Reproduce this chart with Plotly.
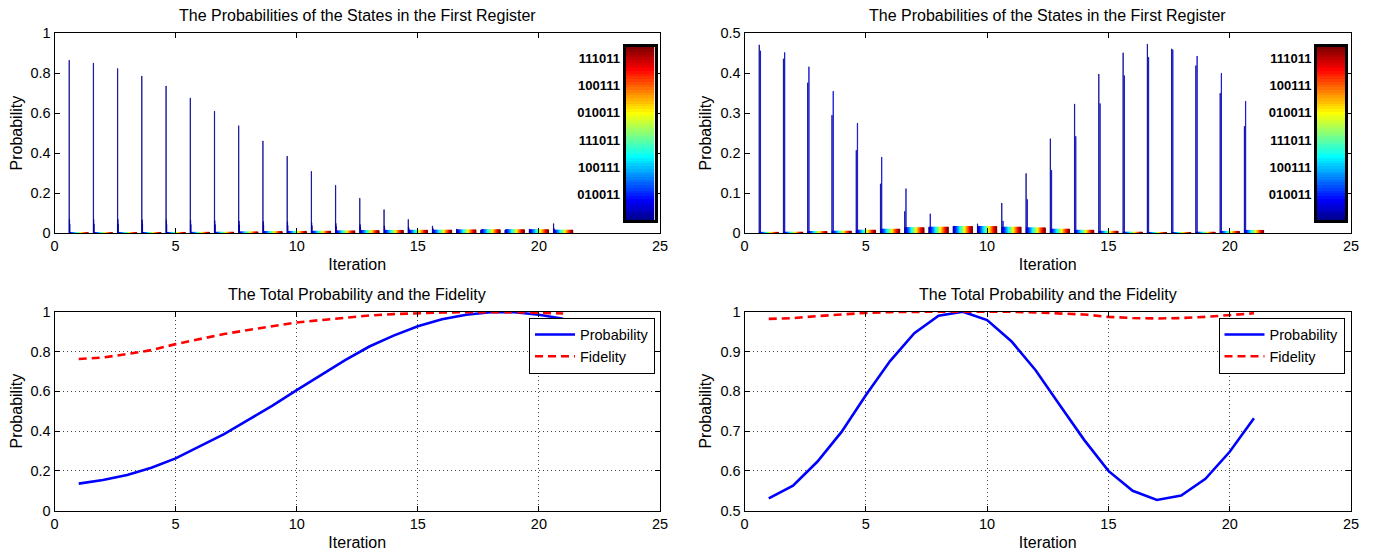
import plotly.graph_objects as go

# page is 1377x556; the html body adds an 8px margin, so the figure is drawn 8px smaller
PAGE_W, PAGE_H = 1377, 556
OFF = 8
W, H = PAGE_W - OFF, PAGE_H - OFF

# ---------------- data ----------------
iterations = list(range(1, 22))
n_states = 64

# top-left panel: probabilities of the register states per iteration
tl_state1 = [0.865, 0.851, 0.824, 0.786, 0.736, 0.676, 0.610, 0.537, 0.461, 0.385, 0.309,
             0.239, 0.174, 0.117, 0.068, 0.035, 0.020, 0.015, 0.015, 0.019, 0.047]
tl_state2 = [0.068, 0.068, 0.068, 0.066, 0.066, 0.064, 0.062, 0.060, 0.058, 0.056, 0.052,
             0.048, 0.042, 0.036, 0.030, 0.024, 0.018, 0.016, 0.016, 0.018, 0.024]
tl_state3 = [0.044, 0.044, 0.044, 0.044, 0.044, 0.043, 0.042, 0.041, 0.040, 0.038, 0.036,
             0.033, 0.030, 0.026, 0.022, 0.018, 0.015, 0.014, 0.014, 0.015, 0.018]
tl_others = [0.0010, 0.0012, 0.0015, 0.0020, 0.0028, 0.0035, 0.0045, 0.0055, 0.0068, 0.0080,
             0.0090, 0.0105, 0.0118, 0.0130, 0.0140, 0.0150, 0.0155, 0.0160, 0.0160, 0.0160, 0.0150]

# top-right panel
tr_state1 = [0.471, 0.436, 0.376, 0.295, 0.207, 0.123, 0.054, 0.015, 0.017, 0.023, 0.075,
             0.149, 0.236, 0.323, 0.398, 0.451, 0.473, 0.461, 0.419, 0.350, 0.267]
tr_state5 = [0.456, 0.452, 0.416, 0.355, 0.275, 0.190, 0.111, 0.048, 0.017, 0.017, 0.030,
             0.084, 0.157, 0.242, 0.324, 0.394, 0.440, 0.459, 0.443, 0.400, 0.330]
tr_others = [0.0017, 0.0025, 0.0034, 0.0050, 0.0075, 0.0100, 0.0130, 0.0150, 0.0160, 0.0160,
             0.0150, 0.0128, 0.0100, 0.0070, 0.0045, 0.0025, 0.0014, 0.0013, 0.0022, 0.0040, 0.0065]

# bottom panels: total probability and fidelity
bl_probability = [0.136, 0.154, 0.179, 0.216, 0.263, 0.322, 0.385, 0.456, 0.528, 0.606, 0.683,
                  0.757, 0.825, 0.880, 0.927, 0.962, 0.985, 0.997, 0.997, 0.985, 0.965]
bl_fidelity = [0.762, 0.770, 0.787, 0.807, 0.837, 0.864, 0.888, 0.908, 0.928, 0.946, 0.958,
               0.971, 0.981, 0.988, 0.993, 0.996, 0.998, 0.999, 0.998, 0.995, 0.991]
br_probability = [0.531, 0.563, 0.623, 0.698, 0.790, 0.876, 0.946, 0.990, 1.000, 0.979, 0.926,
                  0.853, 0.765, 0.678, 0.600, 0.550, 0.527, 0.538, 0.580, 0.648, 0.732]
br_fidelity = [0.982, 0.984, 0.989, 0.993, 0.997, 0.999, 1.000, 1.000, 1.000, 1.000, 1.000,
               0.998, 0.996, 0.993, 0.987, 0.984, 0.983, 0.984, 0.987, 0.992, 0.996]

cbar_tickvals = [10, 20, 30, 40, 50, 60]
cbar_ticktext = ["010011", "100111", "111011", "010011", "100111", "111011"]

title_top = "The Probabilities of the States in the First Register"
title_bottom = "The Total Probability and the Fidelity"

# ---------------- styling helpers ----------------
FONT = "Liberation Sans, Arial, Helvetica, sans-serif"


def jet(n):
    cols = []
    for i in range(1, n + 1):
        x = i / n
        r = min(max(1.5 - abs(4 * x - 3), 0), 1)
        g = min(max(1.5 - abs(4 * x - 2), 0), 1)
        b = min(max(1.5 - abs(4 * x - 1), 0), 1)
        cols.append("rgb(%d,%d,%d)" % (round(r * 255), round(g * 255), round(b * 255)))
    return cols


JET = jet(n_states)


def px_x(p):
    return (p - OFF) / W


def px_y(p):
    return 1 - (p - OFF) / H


# panel domains (pixels of the 1377x556 page)
dom_x_left = [px_x(54.5), px_x(660)]
dom_x_right = [px_x(744.5), px_x(1351)]
dom_y_top = [px_y(233), px_y(33.3)]
dom_y_bot = [px_y(510.7), px_y(311.7)]

fig = go.Figure()

# ---------------- top panels: grouped bars ----------------
def state_table(specials, others):
    table = []
    for j in range(1, n_states + 1):
        table.append(specials.get(j, others))
    return table


tl_table = state_table({1: tl_state1, 2: tl_state2, 3: tl_state3}, tl_others)
tr_table = state_table({1: tr_state1, 5: tr_state5}, tr_others)

for j in range(n_states):
    fig.add_trace(go.Bar(x=iterations, y=tl_table[j],
                         marker=dict(color=JET[j], line=dict(width=0.7, color=JET[j])),
                         xaxis="x", yaxis="y", showlegend=False, hoverinfo="skip"))
for j in range(n_states):
    fig.add_trace(go.Bar(x=iterations, y=tr_table[j],
                         marker=dict(color=JET[j], line=dict(width=0.7, color=JET[j])),
                         xaxis="x2", yaxis="y2", showlegend=False, hoverinfo="skip"))

# colour bars drawn as small heatmaps in their own axes
cscale = [[k / (n_states - 1), JET[k]] for k in range(n_states)]
zcol = [[v] for v in range(1, n_states + 1)]
for xa, ya in (("x5", "y5"), ("x6", "y6")):
    fig.add_trace(go.Heatmap(z=zcol, x=[0], y=list(range(1, n_states + 1)), colorscale=cscale,
                             zmin=1, zmax=n_states, showscale=False, xaxis=xa, yaxis=ya,
                             hoverinfo="skip"))

# ---------------- bottom panels: lines ----------------
line_blue = dict(color="#0000ff", width=2.6)
line_red = dict(color="#ff0000", width=2.6, dash="8px,5px")
fig.add_trace(go.Scatter(x=iterations, y=bl_probability, mode="lines", line=line_blue,
                         name="Probability", xaxis="x3", yaxis="y3", legend="legend"))
fig.add_trace(go.Scatter(x=iterations, y=bl_fidelity, mode="lines", line=line_red,
                         name="Fidelity", xaxis="x3", yaxis="y3", legend="legend"))
fig.add_trace(go.Scatter(x=iterations, y=br_probability, mode="lines", line=line_blue,
                         name="Probability", xaxis="x4", yaxis="y4", legend="legend2"))
fig.add_trace(go.Scatter(x=iterations, y=br_fidelity, mode="lines", line=line_red,
                         name="Fidelity", xaxis="x4", yaxis="y4", legend="legend2"))

# ---------------- axes ----------------
tickfont = dict(family=FONT, size=14.5, color="black")
titlefont = dict(family=FONT, size=16, color="black")


def xax(domain, anchor, grid):
    return dict(domain=domain, anchor=anchor, range=[0, 25], tickvals=[0, 5, 10, 15, 20, 25],
                showline=True, linecolor="black", linewidth=1, mirror="ticks",
                ticks="inside", ticklen=5, tickcolor="black", tickfont=tickfont,
                showgrid=grid, gridcolor="#444", griddash="1px,3px", gridwidth=1,
                zeroline=False, automargin=False,
                title=dict(text="Iteration", font=titlefont, standoff=5))


def yax(domain, anchor, rng, dtick, grid):
    return dict(domain=domain, anchor=anchor, range=rng, dtick=dtick, tick0=0,
                showline=True, linecolor="black", linewidth=1, mirror="ticks",
                ticks="inside", ticklen=5, tickcolor="black", tickfont=tickfont,
                showgrid=grid, gridcolor="#444", griddash="1px,3px", gridwidth=1,
                zeroline=False, automargin=False,
                title=dict(text="Probability", font=titlefont, standoff=4))


def cbx(domain, anchor):
    return dict(domain=domain, anchor=anchor, range=[-0.5, 0.5], showticklabels=False,
                ticks="", showgrid=False, zeroline=False, showline=True, linecolor="black",
                linewidth=3, mirror=True, automargin=False)


def cby(domain, anchor):
    return dict(domain=domain, anchor=anchor, range=[0.5, n_states + 0.5], tickvals=cbar_tickvals,
                ticktext=cbar_ticktext, ticks="", side="left",
                tickfont=dict(family=FONT, size=13, color="black", weight="bold"),
                showgrid=False, zeroline=False, showline=True, linecolor="black",
                linewidth=3, mirror=True, automargin=False)


cb_y = [px_y(220), px_y(46.5)]

legend_style = dict(xanchor="right", yanchor="top", bgcolor="white", bordercolor="black",
                    borderwidth=1, itemwidth=40, tracegroupgap=0,
                    font=dict(family=FONT, size=14.5, color="black"))

fig.update_layout(
    width=W, height=H,
    margin=dict(l=0, r=0, t=0, b=0, autoexpand=False),
    paper_bgcolor="white", plot_bgcolor="white",
    barmode="group", bargap=0.2, bargroupgap=0,
    font=dict(family=FONT, size=14.5, color="black"),
    xaxis=xax(dom_x_left, "y", False),
    yaxis=yax(dom_y_top, "x", [0, 1], 0.2, False),
    xaxis2=xax(dom_x_right, "y2", False),
    yaxis2=yax(dom_y_top, "x2", [0, 0.5], 0.1, False),
    xaxis3=xax(dom_x_left, "y3", True),
    yaxis3=yax(dom_y_bot, "x3", [0, 1], 0.2, True),
    xaxis4=xax(dom_x_right, "y4", True),
    yaxis4=yax(dom_y_bot, "x4", [0.5, 1], 0.1, True),
    xaxis5=cbx([px_x(625.5), px_x(654.5)], "y5"),
    yaxis5=cby(cb_y, "x5"),
    xaxis6=cbx([px_x(1317), px_x(1345)], "y6"),
    yaxis6=cby(cb_y, "x6"),
    legend=dict(x=px_x(655), y=px_y(317.5), **legend_style),
    legend2=dict(x=px_x(1344.5), y=px_y(317.5), **legend_style),
    showlegend=True,
)

# panel titles
for cx, cy, txt in ((357, 16, title_top), (1047.5, 16, title_top),
                    (357, 294, title_bottom), (1047.5, 294, title_bottom)):
    fig.add_annotation(x=px_x(cx), y=px_y(cy), xref="paper", yref="paper", text=txt,
                       showarrow=False, xanchor="center", yanchor="middle",
                       font=dict(family=FONT, size=16, color="black"))

fig.write_html("out.html")
